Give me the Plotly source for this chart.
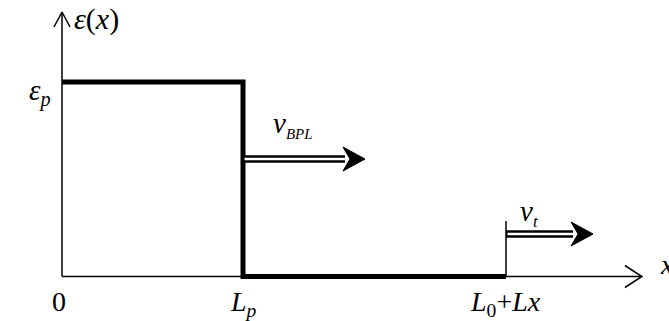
import plotly.graph_objects as go

# positions along x (in units of Lp) and levels of eps(x)
eps_p = 1.0
Lp = 1.0
L0_Lx = 2.453
x_axis_end = 3.204
y_axis_end = 1.36

# strain profile (step)
step_x = [0, Lp, Lp, L0_Lx]
step_y = [eps_p, eps_p, 0, 0]

# velocity arrows: start x, end x, height
v_bpl = dict(x0=Lp, x1=1.674, y=0.604)
v_t = dict(x0=L0_Lx, x1=2.934, y=0.2185)
front_top = 0.285

# pixel -> data scales (plot fills the whole 669x321 window)
W, H = 669, 321
sx, sy = 181.0, 194.5
xr = [-62 / sx, (W - 62) / sx]
yr = [-(H - 276.5) / sy, 276.5 / sy]

FONT = "Liberation Serif, Times New Roman, DejaVu Serif, serif"
fig = go.Figure()


def line(xs, ys, w, color="black"):
    fig.add_trace(go.Scatter(x=xs, y=ys, mode="lines",
                             line=dict(color=color, width=w),
                             hoverinfo="skip", showlegend=False))


# axes
line([0, x_axis_end], [0, 0], 1.5)
line([0, 0], [0, y_axis_end], 1.5)
# open chevron heads
line([x_axis_end - 17 / sx, x_axis_end, x_axis_end - 17 / sx],
     [11 / sy, 0, -11 / sy], 1.5)
line([-8 / sx, 0, 8 / sx],
     [y_axis_end - 15 / sy, y_axis_end, y_axis_end - 15 / sy], 1.5)

# eps(x) step
line(step_x, step_y, 5)
# thin front at L0+Lx
line([L0_Lx, L0_Lx], [0, front_top], 1.5)


def double_arrow(a):
    tip = a["x1"]
    back = tip - 22 / sx
    notch = tip - 15 / sx
    line([a["x0"], back + 2 / sx], [a["y"], a["y"]], 7.5)
    line([a["x0"] + 1.5 / sx, back + 2 / sx], [a["y"], a["y"]], 2.5, "white")
    fig.add_trace(go.Scatter(
        x=[tip, back, notch, back, tip],
        y=[a["y"], a["y"] + 12 / sy, a["y"], a["y"] - 12 / sy, a["y"]],
        mode="lines", fill="toself", fillcolor="black",
        line=dict(color="black", width=1),
        hoverinfo="skip", showlegend=False))


double_arrow(v_bpl)
double_arrow(v_t)

labels = [
    # text, x, y, xanchor, yanchor, size
    ("<i>ε</i>(<i>x</i>)", 10 / sx, y_axis_end - 7 / sy, "left", "middle", 30),
    ("<i>ε</i><sub><i>p</i></sub>", -22 / sx, eps_p - 10 / sy, "center", "middle", 29),
    ("0", -3 / sx, -25 / sy, "center", "middle", 28),
    ("<i>L</i><sub><i>p</i></sub>", Lp, -27 / sy, "center", "middle", 28),
    ("<i>L</i><sub>0</sub>+<i>Lx</i>", L0_Lx, -27 / sy, "center", "middle", 28),
    ("<i>x</i>", x_axis_end + 16 / sx, 12 / sy, "left", "middle", 28),
    ("<i>v</i><sub><i><span style='font-size:15px'>BPL</span></i></sub>",
     v_bpl["x0"] + 28 / sx, v_bpl["y"] + 15 / sy, "left", "bottom", 29),
    ("<i>v</i><sub><i><span style='font-size:17px'>t</span></i></sub>",
     v_t["x0"] + 12 / sx, v_t["y"] + 1 / sy, "left", "bottom", 29),
]
for text, x, y, xa, ya, size in labels:
    fig.add_annotation(x=x, y=y, text=text, showarrow=False,
                       xanchor=xa, yanchor=ya,
                       font=dict(family=FONT, size=size, color="black"))

fig.update_layout(
    width=W, height=H,
    margin=dict(l=0, r=0, t=0, b=0),
    paper_bgcolor="white", plot_bgcolor="white",
    xaxis=dict(range=xr, visible=False, fixedrange=True),
    yaxis=dict(range=yr, visible=False, fixedrange=True),
)
# drop the page's default 8px body margin so the figure sits at (0, 0)
fig.write_html("out.html", config={"displayModeBar": False},
               post_script="document.body.style.margin='0';"
                           "document.body.style.overflow='hidden';")
